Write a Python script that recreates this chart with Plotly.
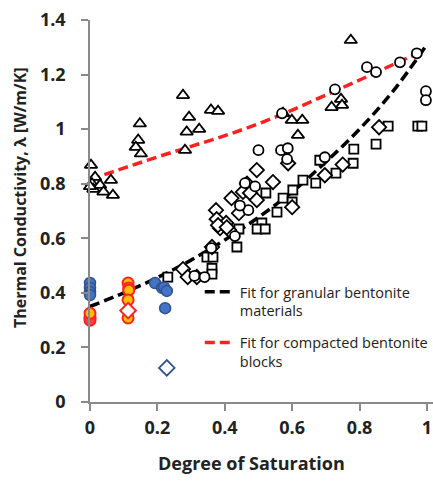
import plotly.graph_objects as go

# --- measured thermal conductivity vs degree of saturation ---
tri_x = [0.003, 0.015, 0.006, 0.010, 0.030, 0.040, 0.062, 0.068, 0.000,
         0.148, 0.143, 0.136, 0.151,
         0.276, 0.294, 0.287, 0.324, 0.282, 0.359, 0.380,
         0.573, 0.599, 0.630, 0.617,
         0.774, 0.717, 0.745, 0.748]
tri_y = [0.868, 0.824, 0.800, 0.780, 0.795, 0.770, 0.813, 0.758, 0.790,
         1.020, 0.960, 0.934, 0.910,
         1.124, 1.044, 0.990, 1.000, 0.923, 1.070, 1.066,
         1.058, 1.033, 1.033, 0.978,
         1.326, 1.080, 1.110, 1.088]

circ_x = [0.727, 0.822, 0.849, 0.920, 0.970, 0.997, 0.997,
          0.570, 0.500, 0.567, 0.587, 0.585, 0.697,
          0.490, 0.470, 0.430, 0.360, 0.460, 0.445, 0.310, 0.340]
circ_y = [1.146, 1.227, 1.209, 1.245, 1.278, 1.139, 1.106,
          1.058, 0.923, 0.923, 0.930, 0.890, 0.897,
          0.790, 0.703, 0.608, 0.564, 0.802, 0.720, 0.462, 0.458]

dia_x = [0.495, 0.543, 0.466, 0.454, 0.475, 0.420, 0.374, 0.376, 0.404,
         0.386, 0.413, 0.442, 0.600, 0.697, 0.750, 0.858, 0.362, 0.276,
         0.290, 0.317, 0.380, 0.406, 0.588, 0.495]
dia_y = [0.850, 0.806, 0.800, 0.770, 0.766, 0.747, 0.703, 0.670, 0.656,
         0.637, 0.630, 0.692, 0.714, 0.831, 0.870, 1.007, 0.568, 0.487,
         0.458, 0.458, 0.648, 0.640, 0.875, 0.740]

sq_x = [0.885, 0.973, 0.985, 0.849, 0.783, 0.781, 0.730, 0.670, 0.632,
        0.682, 0.602, 0.573, 0.600, 0.555, 0.522, 0.510, 0.496, 0.520,
        0.442, 0.436, 0.347, 0.365, 0.362, 0.362, 0.231]
sq_y = [1.011, 1.011, 1.011, 0.945, 0.927, 0.875, 0.839, 0.802, 0.813,
        0.886, 0.777, 0.747, 0.733, 0.696, 0.766, 0.656, 0.634, 0.634,
        0.634, 0.568, 0.531, 0.531, 0.490, 0.469, 0.458]

blue_x = [0.000, 0.000, 0.000, 0.000, 0.193, 0.214, 0.220, 0.228, 0.223]
blue_y = [0.436, 0.418, 0.403, 0.392, 0.436, 0.418, 0.420, 0.407, 0.344]

red_x = [0.000, 0.000]
red_y = [0.310, 0.300]

orange_x = [0.000, 0.113, 0.115, 0.115, 0.113, 0.113]
orange_y = [0.325, 0.436, 0.418, 0.410, 0.374, 0.308]

red_dia_x = [0.113]
red_dia_y = [0.335]

blue_dia_x = [0.228]
blue_dia_y = [0.125]

# --- fitted curves ---
fit_gran_x = [0.0, 0.1, 0.2, 0.3, 0.4, 0.5, 0.6, 0.7, 0.8, 0.9, 1.0]
fit_gran_y = [0.35, 0.40, 0.456, 0.52, 0.594, 0.677, 0.77, 0.88, 1.00, 1.14, 1.31]

fit_block_x = [0.0, 0.1, 0.2, 0.3, 0.4, 0.5, 0.6, 0.7, 0.8, 0.9, 0.98]
fit_block_y = [0.815, 0.857, 0.898, 0.937, 0.976, 1.02, 1.07, 1.125, 1.18, 1.237, 1.282]

x_ticks = [0, 0.2, 0.4, 0.6, 0.8, 1]
y_ticks = [0, 0.2, 0.4, 0.6, 0.8, 1, 1.2, 1.4]

x_title = "Degree of Saturation"
y_title = "Thermal Conductivity, λ [W/m/K]"

FONT = "Open Sans"
AXIS_GREY = "#8a8a8a"
TEXT = "#222222"

fig = go.Figure()

fig.add_trace(go.Scatter(
    x=fit_gran_x, y=fit_gran_y, mode="lines", line_shape="spline",
    name="Fit for granular bentonite<br>materials", legendgroup="g1",
    line=dict(color="black", width=3.5, dash="10px,5px")))
fig.add_trace(go.Scatter(
    x=fit_block_x, y=fit_block_y, mode="lines", line_shape="spline",
    name="Fit for compacted bentonite<br>blocks", legendgroup="g2",
    line=dict(color="#ff2020", width=3.5, dash="10px,5px")))


def open_marker(x, y, symbol, size, edge="black", fill="white", width=1.8):
    fig.add_trace(go.Scatter(
        x=x, y=y, mode="markers", showlegend=False, cliponaxis=False,
        marker=dict(symbol=symbol, size=size, color=fill,
                    line=dict(color=edge, width=width))))


open_marker(tri_x, tri_y, "triangle-up", 11)
open_marker(sq_x, sq_y, "square", 9)
open_marker(dia_x, dia_y, "diamond", 11)
open_marker(circ_x, circ_y, "circle", 10)
open_marker(blue_x, blue_y, "circle", 11, edge="#2f528f", fill="#4472c4", width=1.5)
open_marker(red_x, red_y, "circle", 11, edge="#ff2020", fill="#ff4040", width=2)
open_marker(orange_x, orange_y, "circle", 11, edge="#ff2020", fill="#ffc000", width=2)
open_marker(red_dia_x, red_dia_y, "diamond", 12, edge="#ff2020", fill="white", width=2)
open_marker(blue_dia_x, blue_dia_y, "diamond", 12, edge="#2f528f", fill="white", width=1.8)

# axis titles placed as annotations so they sit where the figure wants them
fig.add_annotation(text=f"<b>{x_title}</b>", xref="paper", yref="paper",
                   x=0.472, y=-0.16, xanchor="center", yanchor="middle",
                   showarrow=False, font=dict(family=FONT, size=18, color=TEXT))
fig.add_annotation(text=f"<b>{y_title}</b>", xref="paper", yref="paper",
                   x=-0.204, y=0.534, xanchor="center", yanchor="middle",
                   textangle=-90, showarrow=False,
                   font=dict(family=FONT, size=16, color=TEXT))

fig.update_layout(
    width=433, height=483,
    margin=dict(l=90, r=0, t=20, b=81),
    paper_bgcolor="white", plot_bgcolor="white",
    font=dict(family=FONT, color=TEXT),
    showlegend=True,
    legend=dict(x=0.32, y=0.33, xanchor="left", yanchor="top",
                bgcolor="rgba(0,0,0,0)", valign="top",
                traceorder="grouped", tracegroupgap=10,
                font=dict(family=FONT, size=14.5, color=TEXT)),
    xaxis=dict(range=[0, 1.018], tickvals=x_ticks,
               ticktext=[str(v) for v in x_ticks],
               showgrid=False, zeroline=False,
               showline=True, linecolor=AXIS_GREY, linewidth=1.5,
               ticks="outside", ticklen=7, tickcolor=AXIS_GREY, tickwidth=1.5,
               ticklabelstandoff=2,
               tickfont=dict(family=FONT, size=18, color=TEXT, weight="bold")),
    yaxis=dict(range=[0, 1.4], tickvals=y_ticks,
               ticktext=[str(v) for v in y_ticks],
               showgrid=False, zeroline=False,
               showline=True, linecolor=AXIS_GREY, linewidth=1.5,
               ticks="outside", ticklen=7, tickcolor=AXIS_GREY, tickwidth=1.5,
               ticklabelstandoff=12,
               tickfont=dict(family=FONT, size=18, color=TEXT, weight="bold")),
)

fig.write_html("out.html")
